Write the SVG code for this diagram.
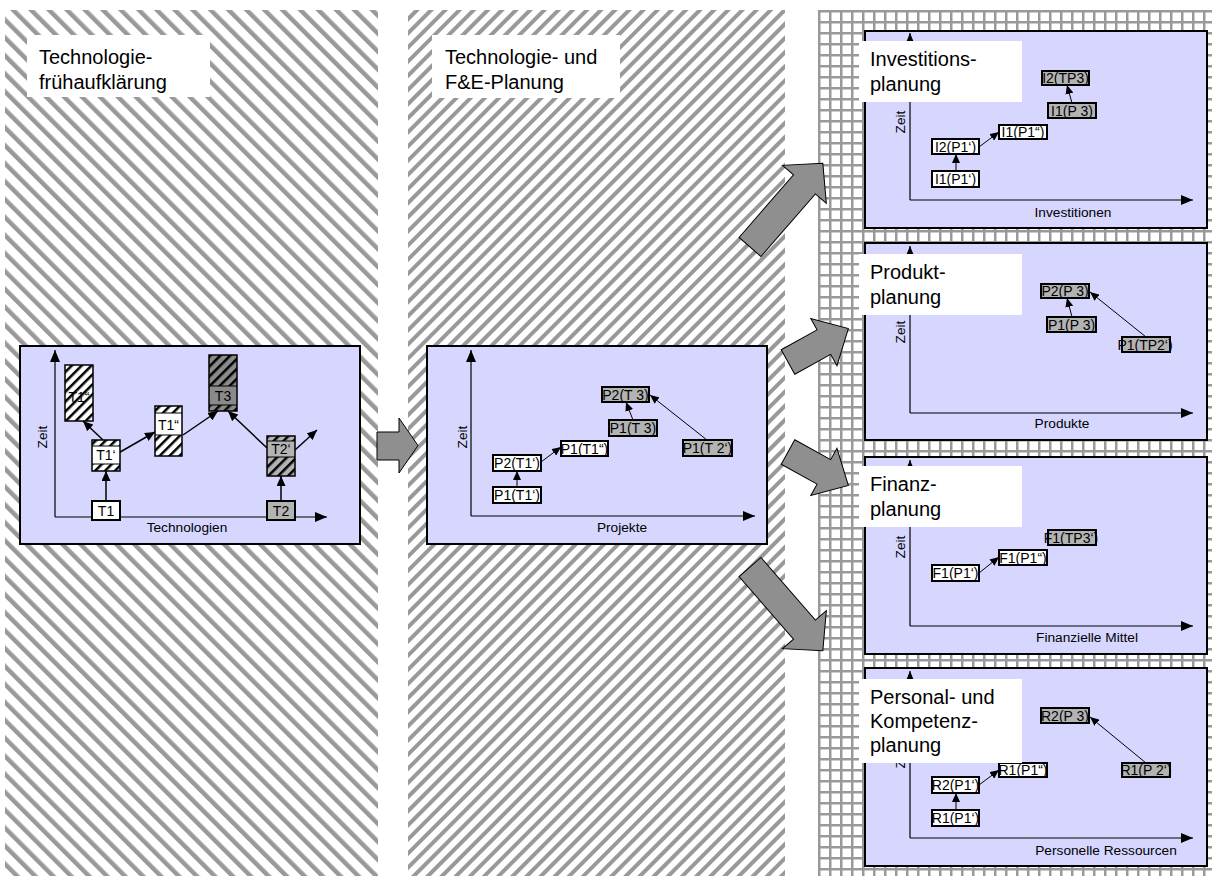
<svg xmlns="http://www.w3.org/2000/svg" width="1214" height="879" viewBox="0 0 1214 879">
<defs>
<pattern id="stripeL" patternUnits="userSpaceOnUse" width="12.7" height="20" patternTransform="rotate(-45)">
<rect x="0" y="0" width="4.5" height="20" fill="#999"/>
</pattern>
<pattern id="stripeM" patternUnits="userSpaceOnUse" width="10" height="20" patternTransform="rotate(45)">
<rect x="0" y="0" width="4" height="20" fill="#999"/>
</pattern>
<pattern id="grid" patternUnits="userSpaceOnUse" width="11" height="11" x="818" y="10">
<rect x="0" y="0" width="11" height="2.5" fill="#999"/>
<rect x="0" y="0" width="2.5" height="11" fill="#999"/>
</pattern>
<pattern id="hatch" patternUnits="userSpaceOnUse" width="7" height="7" patternTransform="rotate(45)">
<rect x="0" y="0" width="2.5" height="7" fill="#000"/>
</pattern>
<marker id="ah" markerUnits="userSpaceOnUse" markerWidth="10" markerHeight="9" refX="10" refY="4.5" orient="auto">
<path d="M0,0 L10,4.5 L0,9 z" fill="#000"/>
</marker>
<marker id="ahs" markerUnits="userSpaceOnUse" markerWidth="9" markerHeight="8" refX="9" refY="4" orient="auto">
<path d="M0,0 L9,4 L0,8 z" fill="#000"/>
</marker>
<marker id="ax" markerUnits="userSpaceOnUse" markerWidth="12" markerHeight="10" refX="12" refY="5" orient="auto">
<path d="M0,0 L12,5 L0,10 z" fill="#000"/>
</marker>
</defs>
<style>
text{font-family:"Liberation Sans",Arial,sans-serif;fill:#000}
.title{font-size:20px}
.axl{font-size:13.7px;text-anchor:middle}
.nl{font-size:14px;text-anchor:middle}
.chart{fill:#d6d6ff;stroke:#000;stroke-width:2}
.axis{stroke:#000;stroke-width:1.2;fill:none;marker-end:url(#ax)}
.nw{fill:#fff;stroke:#000;stroke-width:2}
.ng{fill:#b3b3b3;stroke:#000;stroke-width:2}
.nb{fill:none;stroke:#000;stroke-width:1.5}
.c{stroke:#000;stroke-width:1.5;fill:none;marker-end:url(#ah)}
.cs{stroke:#000;stroke-width:1;fill:none;marker-end:url(#ahs)}
.big{fill:#8f8f8f;stroke:#000;stroke-width:1}
.lab{fill:#fff}
</style>

<g id="backgrounds">
<rect x="5" y="10" width="373" height="866" fill="url(#stripeL)"/>
<rect x="408" y="10" width="377" height="866" fill="url(#stripeM)"/>
<rect x="818" y="10" width="394" height="866" fill="url(#grid)"/>
</g>

<g id="title-left">
<rect class="lab" x="27" y="35" width="183" height="62"/>
<text class="title" x="39" y="64">Technologie-</text>
<text class="title" x="39" y="89">frühaufklärung</text>
</g>
<g id="title-middle">
<rect class="lab" x="432" y="35" width="188" height="63"/>
<text class="title" x="445" y="64">Technologie- und</text>
<text class="title" x="445" y="89">F&amp;E-Planung</text>
</g>

<g id="chart-technologien">
<rect class="chart" x="20" y="346" width="340" height="198"/>
<path class="axis" d="M55,517 V350"/>
<path class="axis" d="M55,517 H327"/>
<text class="axl" transform="rotate(-90 47 437)" x="47" y="437">Zeit</text>
<text class="axl" x="187" y="532">Technologien</text>
</g>

<g id="chart-projekte">
<rect class="chart" x="427" y="346" width="340" height="198"/>
<path class="axis" d="M471,516 V350"/>
<path class="axis" d="M471,516 H755"/>
<text class="axl" transform="rotate(-90 467 437)" x="467" y="437">Zeit</text>
<text class="axl" x="622" y="532">Projekte</text>
</g>

<g id="panel-investitionen">
<rect class="chart" x="865" y="31" width="342" height="197"/>
<path class="axis" d="M910,200 V33"/>
<path class="axis" d="M910,200 H1193"/>
<text class="axl" transform="rotate(-90 905 122)" x="905" y="122">Zeit</text>
<text class="axl" x="1073" y="217">Investitionen</text>
</g>
<g id="panel-produkte">
<rect class="chart" x="865" y="243" width="342" height="197"/>
<path class="axis" d="M910,413 V246"/>
<path class="axis" d="M910,413 H1193"/>
<text class="axl" transform="rotate(-90 905 332)" x="905" y="332">Zeit</text>
<text class="axl" x="1062" y="428">Produkte</text>
</g>
<g id="panel-finanz">
<rect class="chart" x="865" y="457" width="342" height="197"/>
<path class="axis" d="M910,626 V460"/>
<path class="axis" d="M910,626 H1193"/>
<text class="axl" transform="rotate(-90 905 547)" x="905" y="547">Zeit</text>
<text class="axl" x="1087" y="642">Finanzielle Mittel</text>
</g>
<g id="panel-personal">
<rect class="chart" x="865" y="668" width="342" height="198"/>
<path class="axis" d="M910,838 V671"/>
<path class="axis" d="M910,838 H1193"/>
<text class="axl" transform="rotate(-90 905 757)" x="905" y="757">Zeit</text>
<text class="axl" x="1106" y="855">Personelle Ressourcen</text>
</g>

<g id="connectors">
<path class="c" d="M106,501 V471"/>
<path class="c" d="M103,440 L83,421"/>
<path class="c" d="M115,455 L155,432"/>
<path class="c" d="M183,435 L218,411"/>
<path class="c" d="M267,448 L228,411"/>
<path class="c" d="M295,450 L317,430"/>
<path class="c" d="M281,501 V476"/>
<path class="cs" d="M517,487 V471"/>
<path class="cs" d="M541,462 L561,447"/>
<path class="cs" d="M633,420 L626,402"/>
<path class="cs" d="M707,440 L650,395"/>
<path class="cs" d="M956,171 V154"/>
<path class="cs" d="M979,147 L999,132"/>
<path class="cs" d="M1072,103 L1067,85"/>
<path class="cs" d="M1072,317 L1067,298"/>
<path class="cs" d="M1146,337 L1090,292"/>
<path class="cs" d="M979,573 L999,557"/>
<path class="cs" d="M956,810 V793"/>
<path class="cs" d="M979,785 L999,770"/>
<path class="cs" d="M1146,763 L1090,717"/>
<polygon class="big" points="377,432 399,432 399,418 418,445.5 399,473 399,460 377,460"/>
<polygon class="big" transform="translate(750 247) rotate(-49)" points="0,-14.5 83,-14.5 83,-29 111,0 83,29 83,14.5 0,14.5"/>
<polygon class="big" transform="translate(788 362) rotate(-29)" points="0,-14 41,-14 41,-27 69,0 41,27 41,14 0,14"/>
<polygon class="big" transform="translate(788 452) rotate(29)" points="0,-14 41,-14 41,-27 69,0 41,27 41,14 0,14"/>
<polygon class="big" transform="translate(750 567) rotate(49)" points="0,-14.5 83,-14.5 83,-29 111,0 83,29 83,14.5 0,14.5"/>
</g>

<g id="node-T1">
<rect class="nw" x="92" y="501" width="28" height="19"/>
<text class="nl" x="106" y="516">T1</text>
</g>
<g id="node-T2">
<rect class="ng" x="267" y="501" width="28" height="19"/>
<text class="nl" x="281" y="516">T2</text>
</g>
<g id="node-T1p">
<rect x="92" y="440" width="28" height="31" fill="#fff"/>
<rect x="92" y="440" width="28" height="6" fill="url(#hatch)"/>
<rect x="92" y="464" width="28" height="7" fill="url(#hatch)"/>
<path d="M92,446 H120 M92,464 H120" stroke="#000" stroke-width="1"/>
<text class="nl" x="106" y="460">T1‘</text>
<rect class="nb" x="92" y="440" width="28" height="31"/>
</g>
<g id="node-T1pp-left">
<rect x="65" y="365" width="28" height="56" fill="#fff"/>
<text class="nl" x="79" y="402" fill="#444">T1“</text>
<rect x="65" y="365" width="28" height="56" fill="url(#hatch)"/>
<rect class="nb" x="65" y="365" width="28" height="56"/>
</g>
<g id="node-T1pp">
<rect x="155" y="406" width="27" height="50" fill="#fff"/>
<rect x="155" y="406" width="27" height="7" fill="url(#hatch)"/>
<rect x="155" y="435" width="27" height="21" fill="url(#hatch)"/>
<path d="M155,413 H182 M155,435 H182" stroke="#000" stroke-width="1"/>
<text class="nl" x="168.5" y="430">T1“</text>
<rect class="nb" x="155" y="406" width="27" height="50"/>
</g>
<g id="node-T3">
<rect x="209" y="355" width="28" height="56" fill="#8a8a8a"/>
<rect x="209" y="355" width="28" height="31" fill="url(#hatch)"/>
<rect x="209" y="405" width="28" height="6" fill="url(#hatch)"/>
<path d="M209,386 H237 M209,405 H237" stroke="#000" stroke-width="1"/>
<text class="nl" x="223" y="401">T3</text>
<rect class="nb" x="209" y="355" width="28" height="56"/>
</g>
<g id="node-T2p">
<rect x="267" y="436" width="28" height="40" fill="#b3b3b3"/>
<rect x="267" y="436" width="28" height="5" fill="url(#hatch)"/>
<rect x="267" y="457" width="28" height="19" fill="url(#hatch)"/>
<path d="M267,441 H295 M267,457 H295" stroke="#000" stroke-width="1"/>
<text class="nl" x="281" y="454">T2‘</text>
<rect class="nb" x="267" y="436" width="28" height="40"/>
</g>

<g id="node-P1T1p"><rect class="nw" x="493" y="487" width="48" height="16"/><text class="nl" x="517" y="500">P1(T1‘)</text></g>
<g id="node-P2T1p"><rect class="nw" x="493" y="455" width="48" height="16"/><text class="nl" x="517" y="468">P2(T1‘)</text></g>
<g id="node-P1T1pp"><rect class="nw" x="561" y="441" width="47" height="15"/><text class="nl" x="584.5" y="454">P1(T1“)</text></g>
<g id="node-P1T3"><rect class="ng" x="609" y="420" width="48" height="16"/><text class="nl" x="633" y="433">P1(T 3)</text></g>
<g id="node-P2T3"><rect class="ng" x="602" y="387" width="47" height="15"/><text class="nl" x="625.5" y="400">P2(T 3)</text></g>
<g id="node-P1T2p"><rect class="ng" x="683" y="440" width="49" height="16"/><text class="nl" x="707.5" y="453">P1(T 2‘)</text></g>

<g id="node-I2TP3"><rect class="ng" x="1042" y="71" width="47" height="14"/><text class="nl" x="1065.5" y="83">I2(TP3)</text></g>
<g id="node-I1P3"><rect class="ng" x="1048" y="103" width="48" height="15"/><text class="nl" x="1072" y="116">I1(P 3)</text></g>
<g id="node-I1P1pp"><rect class="nw" x="999" y="125" width="48" height="14"/><text class="nl" x="1023" y="137">I1(P1“)</text></g>
<g id="node-I2P1p"><rect class="nw" x="932" y="139" width="47" height="15"/><text class="nl" x="955.5" y="152">I2(P1‘)</text></g>
<g id="node-I1P1p"><rect class="nw" x="932" y="171" width="47" height="16"/><text class="nl" x="955.5" y="184">I1(P1‘)</text></g>

<g id="node-P2P3"><rect class="ng" x="1041" y="284" width="48" height="14"/><text class="nl" x="1065" y="296">P2(P 3)</text></g>
<g id="node-P1P3"><rect class="ng" x="1047" y="317" width="49" height="15"/><text class="nl" x="1071.5" y="330">P1(P 3)</text></g>
<g id="node-P1TP2p"><rect class="ng" x="1122" y="337" width="48" height="15"/><text class="nl" x="1145" y="350">P1(TP2‘)</text></g>

<g id="node-F1TP3p"><rect class="ng" x="1048" y="530" width="48" height="15"/><text class="nl" x="1071" y="543">F1(TP3‘)</text></g>
<g id="node-F1P1pp"><rect class="nw" x="999" y="550" width="48" height="15"/><text class="nl" x="1023" y="563">F1(P1“)</text></g>
<g id="node-F1P1p"><rect class="nw" x="932" y="565" width="47" height="16"/><text class="nl" x="955.5" y="578">F1(P1‘)</text></g>

<g id="node-R2P3"><rect class="ng" x="1041" y="708" width="48" height="15"/><text class="nl" x="1065" y="721">R2(P 3)</text></g>
<g id="node-R1P1pp"><rect class="nw" x="999" y="763" width="48" height="14"/><text class="nl" x="1023" y="775">R1(P1“)</text></g>
<g id="node-R2P1p"><rect class="nw" x="932" y="777" width="47" height="16"/><text class="nl" x="955.5" y="790">R2(P1‘)</text></g>
<g id="node-R1P1p"><rect class="nw" x="932" y="810" width="47" height="16"/><text class="nl" x="955.5" y="823">R1(P1‘)</text></g>
<g id="node-R1P2p"><rect class="ng" x="1122" y="763" width="48" height="14"/><text class="nl" x="1146" y="775">R1(P 2‘)</text></g>

<g id="label-investition">
<rect class="lab" x="859" y="41" width="163" height="61"/>
<text class="title" x="870" y="66">Investitions-</text>
<text class="title" x="870" y="91">planung</text>
</g>
<g id="label-produkt">
<rect class="lab" x="859" y="254" width="163" height="61"/>
<text class="title" x="870" y="279">Produkt-</text>
<text class="title" x="870" y="304">planung</text>
</g>
<g id="label-finanz">
<rect class="lab" x="859" y="466" width="163" height="61"/>
<text class="title" x="870" y="491">Finanz-</text>
<text class="title" x="870" y="516">planung</text>
</g>
<g id="label-personal">
<rect class="lab" x="859" y="679" width="163" height="84"/>
<text class="title" x="870" y="704">Personal- und</text>
<text class="title" x="870" y="728">Kompetenz-</text>
<text class="title" x="870" y="752">planung</text>
</g>
</svg>
